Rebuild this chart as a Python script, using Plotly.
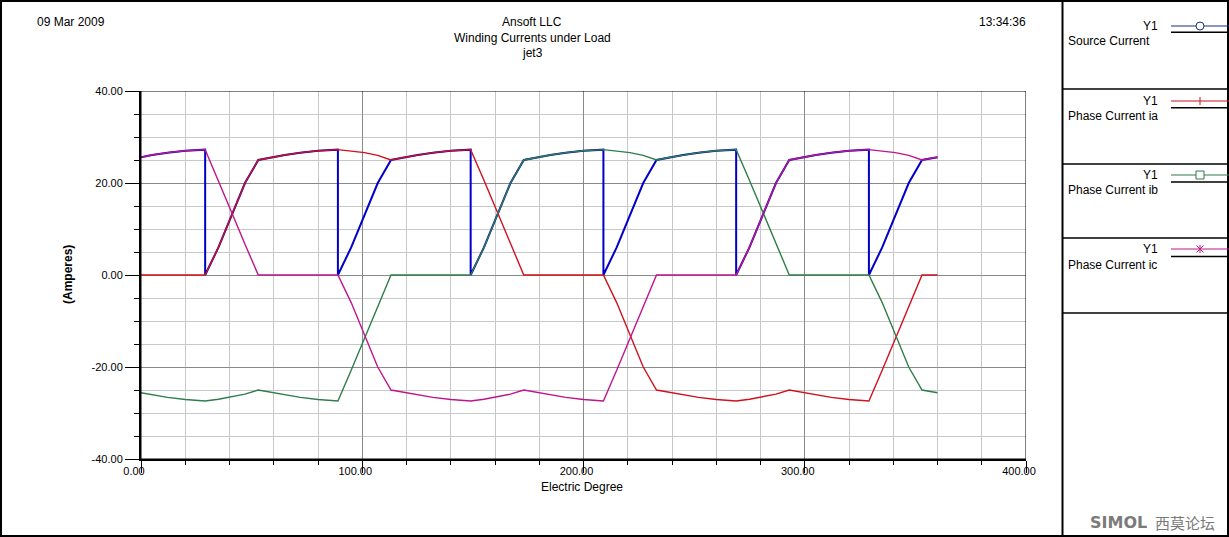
import plotly.graph_objects as go

W, H = 1229, 537

# ---------------- data ----------------
degree = [0, 5, 12, 20, 29,
          35, 41, 47, 53, 58, 65, 72, 80, 89,
          95, 101, 107, 113, 118, 125, 132, 140, 149,
          155, 161, 167, 173, 178, 185, 192, 200, 209,
          215, 221, 227, 233, 238, 245, 252, 260, 269,
          275, 281, 287, 293, 298, 305, 312, 320, 329,
          335, 341, 347, 353, 358, 360]

phase_ia = [0, 0, 0, 0, 0,
            6.0, 13.0, 20.0, 25.0, 25.5, 26.1, 26.6, 27.0, 27.25,
            27.0, 26.6, 26.0, 25.0, 25.5, 26.1, 26.6, 27.0, 27.25,
            20.6, 13.6, 6.7, 0, 0, 0, 0, 0, 0,
            -6.0, -13.0, -20.0, -25.0, -25.45, -26.05, -26.6, -27.05, -27.4,
            -27.0, -26.5, -25.9, -25.0, -25.45, -26.05, -26.6, -27.05, -27.4,
            -20.7, -13.7, -6.8, 0, 0, 0]

phase_ib = [-25.6, -26.05, -26.6, -27.05, -27.4,
            -27.0, -26.5, -25.9, -25.0, -25.45, -26.05, -26.6, -27.05, -27.4,
            -20.7, -13.7, -6.8, 0, 0, 0, 0, 0, 0,
            6.0, 13.0, 20.0, 25.0, 25.5, 26.1, 26.6, 27.0, 27.25,
            27.0, 26.6, 26.0, 25.0, 25.5, 26.1, 26.6, 27.0, 27.25,
            20.6, 13.6, 6.7, 0, 0, 0, 0, 0, 0,
            -6.0, -13.0, -20.0, -25.0, -25.45, -25.6]

phase_ic = [25.6, 26.1, 26.6, 27.0, 27.25,
            20.6, 13.6, 6.7, 0, 0, 0, 0, 0, 0,
            -6.0, -13.0, -20.0, -25.0, -25.45, -26.05, -26.6, -27.05, -27.4,
            -27.0, -26.5, -25.9, -25.0, -25.45, -26.05, -26.6, -27.05, -27.4,
            -20.7, -13.7, -6.8, 0, 0, 0, 0, 0, 0,
            6.0, 13.0, 20.0, 25.0, 25.5, 26.1, 26.6, 27.0, 27.25,
            27.0, 26.6, 26.0, 25.0, 25.5, 25.6]

src_degree = [0, 5, 12, 20, 29,
              29, 35, 41, 47, 53, 58, 65, 72, 80, 89,
              89, 95, 101, 107, 113, 118, 125, 132, 140, 149,
              149, 155, 161, 167, 173, 178, 185, 192, 200, 209,
              209, 215, 221, 227, 233, 238, 245, 252, 260, 269,
              269, 275, 281, 287, 293, 298, 305, 312, 320, 329,
              329, 335, 341, 347, 353, 358, 360]

source_current = [25.6, 26.1, 26.6, 27.0, 27.25,
                  0, 6.0, 13.0, 20.0, 25.0, 25.5, 26.1, 26.6, 27.0, 27.25,
                  0, 6.0, 13.0, 20.0, 25.0, 25.5, 26.1, 26.6, 27.0, 27.25,
                  0, 6.0, 13.0, 20.0, 25.0, 25.5, 26.1, 26.6, 27.0, 27.25,
                  0, 6.0, 13.0, 20.0, 25.0, 25.5, 26.1, 26.6, 27.0, 27.25,
                  0, 6.0, 13.0, 20.0, 25.0, 25.5, 26.1, 26.6, 27.0, 27.25,
                  0, 6.0, 13.0, 20.0, 25.0, 25.5, 25.6]

x_tick_vals = [0, 100, 200, 300, 400]
x_tick_text = ["0.00", "100.00", "200.00", "300.00", "400.00"]
y_tick_vals = [-40, -20, 0, 20, 40]
y_tick_text = ["-40.00", "-20.00", "0.00", "20.00", "40.00"]

series_names = ["Source Current", "Phase Current ia", "Phase Current ib", "Phase Current ic"]
series_colors = ["#0000c8", "#d0101c", "#2e7d4a", "#c0148c"]
legend_colors = ["#1a2a8c", "#d0101c", "#2e7d4a", "#c0148c"]
legend_label = "Y1"

# ---------------- figure ----------------
FONT = "Liberation Sans, Arial, sans-serif"


def px(x):
    return x / W


def py(y):
    return 1 - y / H


fig = go.Figure()
fig.add_trace(go.Scatter(x=src_degree, y=source_current, mode="lines",
                         line=dict(color=series_colors[0], width=2), name=series_names[0]))
fig.add_trace(go.Scatter(x=degree, y=phase_ia, mode="lines",
                         line=dict(color=series_colors[1], width=1.4), name=series_names[1]))
fig.add_trace(go.Scatter(x=degree, y=phase_ib, mode="lines",
                         line=dict(color=series_colors[2], width=1.4), name=series_names[2]))
fig.add_trace(go.Scatter(x=degree, y=phase_ic, mode="lines",
                         line=dict(color=series_colors[3], width=1.4), name=series_names[3]))

fig.update_layout(
    width=W, height=H, autosize=False,
    margin=dict(l=0, r=0, t=0, b=0, pad=0, autoexpand=False),
    paper_bgcolor="white", plot_bgcolor="white",
    showlegend=False,
    font=dict(family=FONT, size=12, color="black"),
    xaxis=dict(
        domain=[px(141), px(1026)], range=[0, 400], automargin=False,
        tickmode="array", tickvals=x_tick_vals, ticktext=x_tick_text,
        ticks="outside", ticklen=12, tickcolor="black", tickwidth=1,
        tickfont=dict(size=11, family=FONT, color="black"),
        ticklabelshift=-7, ticklabelstandoff=-11,
        showline=True, linecolor="black", linewidth=2,
        showgrid=True, gridcolor="#8a8a8a", gridwidth=1,
        zeroline=False,
        minor=dict(tickmode="linear", tick0=0, dtick=20, ticks="outside", ticklen=4,
                   tickcolor="black", showgrid=True, gridcolor="#c8c8c8", gridwidth=1),
    ),
    yaxis=dict(
        domain=[1 - 459 / H, 1 - 91 / H], range=[-40, 40], automargin=False,
        tickmode="array", tickvals=y_tick_vals, ticktext=y_tick_text,
        ticks="outside", ticklen=14, tickcolor="black", tickwidth=1,
        tickfont=dict(size=11, family=FONT, color="black"),
        showline=True, linecolor="black", linewidth=2,
        showgrid=True, gridcolor="#8a8a8a", gridwidth=1,
        zeroline=False,
        minor=dict(tickmode="linear", tick0=0, dtick=5, ticks="outside", ticklen=5,
                   tickcolor="black", showgrid=True, gridcolor="#c8c8c8", gridwidth=1),
    ),
)

shapes = []
# plot frame (top / right)
shapes.append(dict(type="rect", xref="x", yref="y", x0=0, x1=400, y0=-40, y1=40,
                   line=dict(color="black", width=1), layer="above"))
# outer border
shapes.append(dict(type="rect", xref="paper", yref="paper", x0=px(1), x1=px(1228),
                   y0=py(536), y1=py(1), line=dict(color="black", width=2)))
# legend panel separator
shapes.append(dict(type="line", xref="paper", yref="paper", x0=px(1062.5), x1=px(1062.5),
                   y0=py(0), y1=py(537), line=dict(color="black", width=2)))

line_y = [26, 101, 175, 249]
black_y = [32.3, 107.7, 182, 256.5]
name_y = [41, 116, 190, 265]
divider_y = [89, 164, 238, 313]

for yy in divider_y:
    shapes.append(dict(type="line", xref="paper", yref="paper", x0=px(1063), x1=px(1229),
                       y0=py(yy), y1=py(yy), line=dict(color="black", width=1.5)))

annotations = []
for i in range(4):
    c = legend_colors[i]
    shapes.append(dict(type="line", xref="paper", yref="paper", x0=px(1171), x1=px(1229),
                       y0=py(line_y[i]), y1=py(line_y[i]), line=dict(color=c, width=1)))
    shapes.append(dict(type="line", xref="paper", yref="paper", x0=px(1171), x1=px(1229),
                       y0=py(black_y[i]), y1=py(black_y[i]), line=dict(color="black", width=1.6)))
    annotations.append(dict(text=legend_label, xref="paper", yref="paper", x=px(1160), y=py(line_y[i]),
                            xanchor="right", yanchor="middle", showarrow=False,
                            font=dict(size=12, family=FONT, color="black")))
    annotations.append(dict(text=series_names[i], xref="paper", yref="paper", x=px(1066), y=py(name_y[i]),
                            xanchor="left", yanchor="middle", showarrow=False,
                            font=dict(size=12, family=FONT, color="black")))

mx = 1200
# circle (source)
shapes.append(dict(type="circle", xref="paper", yref="paper", x0=px(mx - 4), x1=px(mx + 4),
                   y0=py(line_y[0] + 4), y1=py(line_y[0] - 4),
                   line=dict(color=legend_colors[0], width=1), fillcolor="white"))
# vertical tick (ia)
shapes.append(dict(type="line", xref="paper", yref="paper", x0=px(mx), x1=px(mx),
                   y0=py(line_y[1] + 4), y1=py(line_y[1] - 4),
                   line=dict(color=legend_colors[1], width=1)))
# square (ib)
shapes.append(dict(type="rect", xref="paper", yref="paper", x0=px(mx - 4), x1=px(mx + 4),
                   y0=py(line_y[2] + 4), y1=py(line_y[2] - 4),
                   line=dict(color=legend_colors[2], width=1), fillcolor="white"))
# asterisk (ic)
for dx, dy in [(0, 4), (3.5, 3.5), (-3.5, 3.5)]:
    shapes.append(dict(type="line", xref="paper", yref="paper", x0=px(mx - dx), x1=px(mx + dx),
                       y0=py(line_y[3] + dy), y1=py(line_y[3] - dy),
                       line=dict(color=legend_colors[3], width=1)))

# header texts
annotations += [
    dict(text="09 Mar 2009", x=px(35), y=py(22), xanchor="left", yanchor="middle"),
    dict(text="Ansoft LLC", x=px(532), y=py(22), xanchor="center", yanchor="middle"),
    dict(text="Winding Currents under Load", x=px(532), y=py(38), xanchor="center", yanchor="middle"),
    dict(text="jet3", x=px(532), y=py(53), xanchor="center", yanchor="middle"),
    dict(text="13:34:36", x=px(1028), y=py(22), xanchor="right", yanchor="middle"),
    dict(text="Electric Degree", x=px(582), y=py(487), xanchor="center", yanchor="middle"),
]
for a in annotations[-6:]:
    a.update(xref="paper", yref="paper", showarrow=False, font=dict(size=12, family=FONT, color="black"))

annotations.append(dict(text="<b>(Amperes)</b>", x=px(68), y=py(275), xref="paper", yref="paper",
                        textangle=-90, showarrow=False, xanchor="center", yanchor="middle",
                        font=dict(size=12, family=FONT, color="black")))
# watermark
annotations.append(dict(text="<b>SIMOL</b>", x=px(1118), y=py(522), xref="paper", yref="paper",
                        showarrow=False, xanchor="center", yanchor="middle",
                        font=dict(size=16, family="DejaVu Sans", color="#7a7a7a")))
annotations.append(dict(text="西莫论坛", x=px(1185), y=py(522), xref="paper", yref="paper",
                        showarrow=False, xanchor="center", yanchor="middle",
                        font=dict(size=15, family="Noto Sans CJK SC", color="#7a7a7a")))

fig.update_layout(shapes=shapes, annotations=annotations)
fig.write_html("out.html")
